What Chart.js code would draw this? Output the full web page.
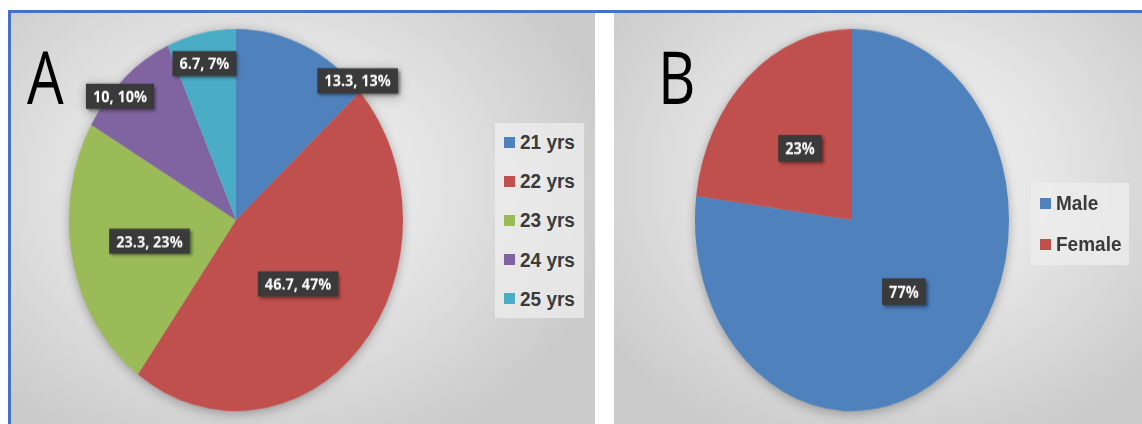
<!DOCTYPE html>
<html><head><meta charset="utf-8">
<script src="https://cdn.jsdelivr.net/npm/chart.js@4/dist/chart.umd.min.js"></script>
<style>
html,body{margin:0;padding:0;background:#fff;width:1142px;height:424px;overflow:hidden;position:relative}
.bline{position:absolute;background:#4472C4}
.panel{position:absolute;top:13px;height:411px}
#panelA{left:11px;width:584px;background:radial-gradient(ellipse 62% 70% at 42% 42%, #f4f4f4 0%, #e6e6e6 45%, #cbcbcb 100%)}
#panelB{left:614px;width:528px;background:radial-gradient(ellipse 65% 70% at 52% 40%, #f4f4f4 0%, #e6e6e6 45%, #cbcbcb 100%)}
canvas{position:absolute;filter:drop-shadow(0 2px 5px rgba(0,0,0,0.3))}
.letter{position:absolute;font-family:"Open Sans",sans-serif;font-weight:500;font-size:58px;line-height:1;color:#000;transform:scaleY(1.27);transform-origin:0 0}
.legend{position:absolute;background:rgba(238,238,238,0.75)}
.li{position:absolute;left:9px;height:22px;display:flex;align-items:center;font-family:"Liberation Sans",Arial,sans-serif;font-weight:bold;font-size:19px;color:#3a3a3a;white-space:nowrap}
.li .tx{display:inline-block;transform:scaleY(1.1)}
.sw{width:11px;height:11px;margin-right:5px;display:inline-block}
</style></head>
<body>
<div class="bline" style="left:8px;top:10px;width:1134px;height:3px"></div>
<div class="bline" style="left:8px;top:10px;width:3px;height:414px"></div>
<div class="panel" id="panelA"></div>
<div class="panel" id="panelB"></div>
<div class="letter" style="left:27px;top:39px">A</div>
<div class="letter" style="left:658px;top:39px">B</div>
<canvas id="chartA" width="350" height="350" style="left:61px;top:45px;transform:scaleY(1.144)"></canvas>
<canvas id="chartB" width="330" height="330" style="left:687px;top:55px;transform:scaleY(1.217)"></canvas>
<div class="legend" id="legendA" style="left:495px;top:123px;width:89px;height:195px"></div>
<div class="legend" id="legendB" style="left:1031px;top:183px;width:98px;height:82px"></div>
<script>
// ---- data ----
const ageLabels = ["21 yrs", "22 yrs", "23 yrs", "24 yrs", "25 yrs"];
const ageValues = [13.3, 46.7, 23.3, 10, 6.7];
const ageColors = ["#4F81BD", "#C0504D", "#9BBB59", "#8064A2", "#4BACC6"];

const genderLabels = ["Male", "Female"];
const genderValues = [77, 23];
const genderColors = ["#4F81BD", "#C0504D"];

// ---- slice label plugin ----
const sliceLabels = {
  id: 'sliceLabels',
  afterDatasetsDraw(chart, args, opts) {
    const ctx = chart.ctx;
    const meta = chart.getDatasetMeta(0);
    const data = chart.data.datasets[0].data;
    const total = data.reduce((a, b) => a + b, 0);
    meta.data.forEach((arc, i) => {
      const p = arc.getProps(['x', 'y', 'startAngle', 'endAngle', 'outerRadius'], true);
      const an = (opts.anchors && opts.anchors[i]) || {};
      const mid = an.deg != null ? (an.deg - 90) * Math.PI / 180 : (p.startAngle + p.endAngle) / 2;
      const f = an.f != null ? an.f : 0.5;
      const x = p.x + Math.cos(mid) * p.outerRadius * f;
      const y = p.y + Math.sin(mid) * p.outerRadius * f;
      const pct = Math.round(data[i] / total * 100) + '%';
      const text = opts.showValue ? (data[i] + ', ' + pct) : pct;
      ctx.save();
      ctx.font = 'bold 14.5px "Open Sans", sans-serif';
      const w = ctx.measureText(text).width + 14, h = 22;
      ctx.shadowColor = 'rgba(0,0,0,0.45)';
      ctx.shadowBlur = 3; ctx.shadowOffsetX = 2; ctx.shadowOffsetY = 2;
      ctx.fillStyle = '#3a3a3a';
      ctx.fillRect(x - w / 2, y - h / 2, w, h);
      ctx.shadowColor = 'transparent';
      ctx.fillStyle = '#ffffff';
      ctx.textAlign = 'center'; ctx.textBaseline = 'middle';
      ctx.fillText(text, x, y + 1);
      ctx.restore();
    });
  }
};

function makePie(id, labels, values, colors, pluginOpts) {
  return new Chart(document.getElementById(id), {
    type: 'pie',
    data: { labels: labels, datasets: [{ data: values, backgroundColor: colors, borderWidth: 0 }] },
    options: {
      responsive: false, animation: false,
      layout: { padding: 8 },
      plugins: { legend: { display: false }, tooltip: { enabled: false }, sliceLabels: pluginOpts }
    },
    plugins: [sliceLabels]
  });
}

makePie('chartA', ageLabels, ageValues, ageColors, {
  showValue: true,
  anchors: [{ deg: 45, f: 1.03 }, { f: 0.5 }, { f: 0.53 }, { deg: 313, f: 0.95 }, { deg: 347, f: 0.84 }]
});
makePie('chartB', genderLabels, genderValues, genderColors, { showValue: false });

function buildLegend(id, labels, colors, first, step) {
  const el = document.getElementById(id);
  labels.forEach((l, i) => {
    const row = document.createElement('div');
    row.className = 'li';
    row.style.top = (first + i * step - 11) + 'px';
    row.innerHTML = '<span class="sw" style="background:' + colors[i] + '"></span><span class="tx">' + l + '</span>';
    el.appendChild(row);
  });
}
buildLegend('legendA', ageLabels, ageColors, 19, 39.2);
buildLegend('legendB', genderLabels, genderColors, 20, 41);
</script>
</body></html>
